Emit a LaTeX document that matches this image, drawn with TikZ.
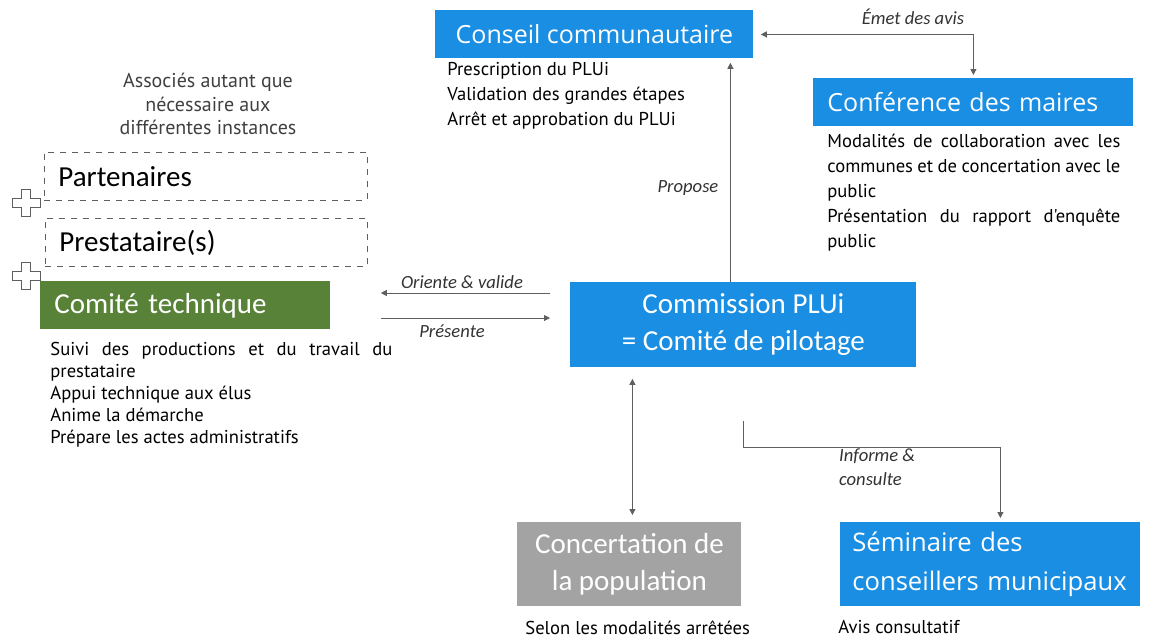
\documentclass[tikz,border=0pt]{standalone}
\usepackage{fontspec}
\setmainfont{Carlito}
\newfontfamily\titlefont{Open Sans}
\newfontfamily\bodyfont{PT Sans}
\usetikzlibrary{positioning,arrows.meta,calc}

\definecolor{plublue}{RGB}{26,142,226}
\definecolor{plugreen}{RGB}{88,130,56}
\definecolor{plugray}{RGB}{163,163,163}
\definecolor{linkgray}{RGB}{95,95,95}

\begin{document}
\begin{tikzpicture}[x=0.5pt,y=-0.5pt,
    instance/.style={anchor=north west,inner sep=0pt,minimum height=24pt,text=white},
    bluebox/.style={instance,fill=plublue,font=\titlefont\fontsize{12.5}{15}\selectfont},
    tallbox/.style={instance,minimum height=42pt,font=\fontsize{14.5}{18.5}\selectfont},
    extbox/.style={instance,draw=linkgray,dashed,text=black,font=\fontsize{14.5}{16}\selectfont},
    duties/.style={anchor=north west,inner sep=0pt,align=left,font=\bodyfont\fontsize{9.3}{12.5}\selectfont},
    linklabel/.style={font=\itshape\fontsize{9.3}{12}\selectfont,text=black!80},
    link/.style={draw=linkgray,line width=0.5pt,-{Triangle[length=3pt,width=3pt]}},
    every node/.style={font=\fontsize{10}{12}\selectfont}]
  \fill[white] (0,0) rectangle (1153,639);
  \useasboundingbox (0,0) rectangle (1153,639);

  % les instances
  \node[bluebox,minimum width=159pt] (conseil) at (435,10) {Conseil communautaire};
  \node[duties] (conseiltxt) at (447,62) {Prescription du PLUi\\Validation des grandes étapes\\Arrêt et approbation du PLUi};

  \node[bluebox,minimum width=160pt,text width=146pt,align=left,inner xsep=7pt] (maires) at (813,78) {Conférence des maires};
  \node[duties,text width=146.5pt,align=justify] (mairestxt) at (827,134)
    {Modalités de collaboration avec les\linebreak communes et de concertation avec le\linebreak public\\Présentation du rapport d'enquête\linebreak public};

  \node[text=black!75,align=center,font=\bodyfont\fontsize{10}{11.8}\selectfont] (associes) at (208,104) {Associés autant que\\nécessaire aux\\différentes instances};
  \node[extbox,minimum width=161.5pt,text width=147.5pt,align=left,inner xsep=7pt] (partenaires) at (44,152) {Partenaires};
  \node[extbox,minimum width=161pt,text width=147pt,align=left,inner xsep=6.5pt] (prestataire) at (45,218) {Prestataire(s)};
  \node[instance,fill=plugreen,minimum width=145pt,text width=131pt,align=left,inner xsep=7pt,font=\fontsize{14.5}{16}\selectfont] (comite) at (40,281) {Comité technique};
  \node[duties,text width=171pt,align=justify,font=\bodyfont\fontsize{9.3}{11}\selectfont] (comitetxt) at (50,342)
    {Suivi des productions et du travail du\linebreak prestataire\\Appui technique aux élus\\Anime la démarche\\Prépare les actes administratifs};

  \node[tallbox,fill=plublue,minimum width=173pt,minimum height=42.5pt,align=center] (commission) at (570,282) {Commission PLUi\\= Comité de pilotage};

  \node[tallbox,fill=plugray,minimum width=112pt,align=center] (concert) at (517,522) {Concertation de\\la population};
  \node[duties] (concerttxt) at (525,620) {Selon les modalités arrêtées};

  \node[instance,fill=plublue,minimum width=150pt,minimum height=42pt,text width=138pt,align=left,inner xsep=6pt,font=\titlefont\fontsize{12.8}{19.5}\selectfont] (seminaire) at (840,522) {Séminaire des\\conseillers municipaux};
  \node[duties] (seminairetxt) at (838,620) {Avis consultatif};

  % les croix
  \foreach \cy in {203,276}
    \draw[linkgray,fill=white,line width=0.5pt] (12,\cy) ++(0,-4.5) -- ++(9.5,0) -- ++(0,-9) -- ++(9,0) -- ++(0,9) -- ++(9.5,0)
      -- ++(0,9) -- ++(-9.5,0) -- ++(0,9) -- ++(-9,0) -- ++(0,-9) -- ++(-9.5,0) -- cycle;

  % les liens
  \draw[link,{Triangle[length=3pt,width=3pt]}-{Triangle[length=3pt,width=3pt]},shorten <=3.5pt,shorten >=1.5pt] (conseil.east) -| (maires.north);
  \node[linklabel] (emet) at (913,17) {Émet des avis};

  \coordinate (propose) at ($(commission.north)+(-13,0)$);
  \draw[link,shorten >=2pt] (propose) -- (propose |- conseil.south);
  \node[linklabel] (proposetxt) at (688,188) {Propose};

  \draw[link] ($(commission.north west)+(-20,11)$) -- ($(comite.north east)+(50,12)$);
  \node[linklabel] (oriente) at (462,282) {Oriente \& valide};
  \draw[link] ($(comite.north east)+(50,37)$) -- ($(commission.north west)+(-20,36)$);
  \node[linklabel] (presente) at (452,331) {Présente};

  \draw[link,{Triangle[length=3pt,width=3pt]}-{Triangle[length=3pt,width=3pt]},shorten <=5.5pt,shorten >=3.5pt]
    ([xshift=1.5pt]concert.north |- commission.south) -- ([xshift=1.5pt]concert.north);

  \draw[link,shorten >=2pt] ($(commission.south)+(0,53)$) |- ($(seminaire.north)+(10,-75)$) -- ($(seminaire.north)+(10,0)$);
  \node[linklabel,anchor=north west,align=left] (informe) at (832,442) {Informe \&\\consulte};
\end{tikzpicture}
\end{document}
